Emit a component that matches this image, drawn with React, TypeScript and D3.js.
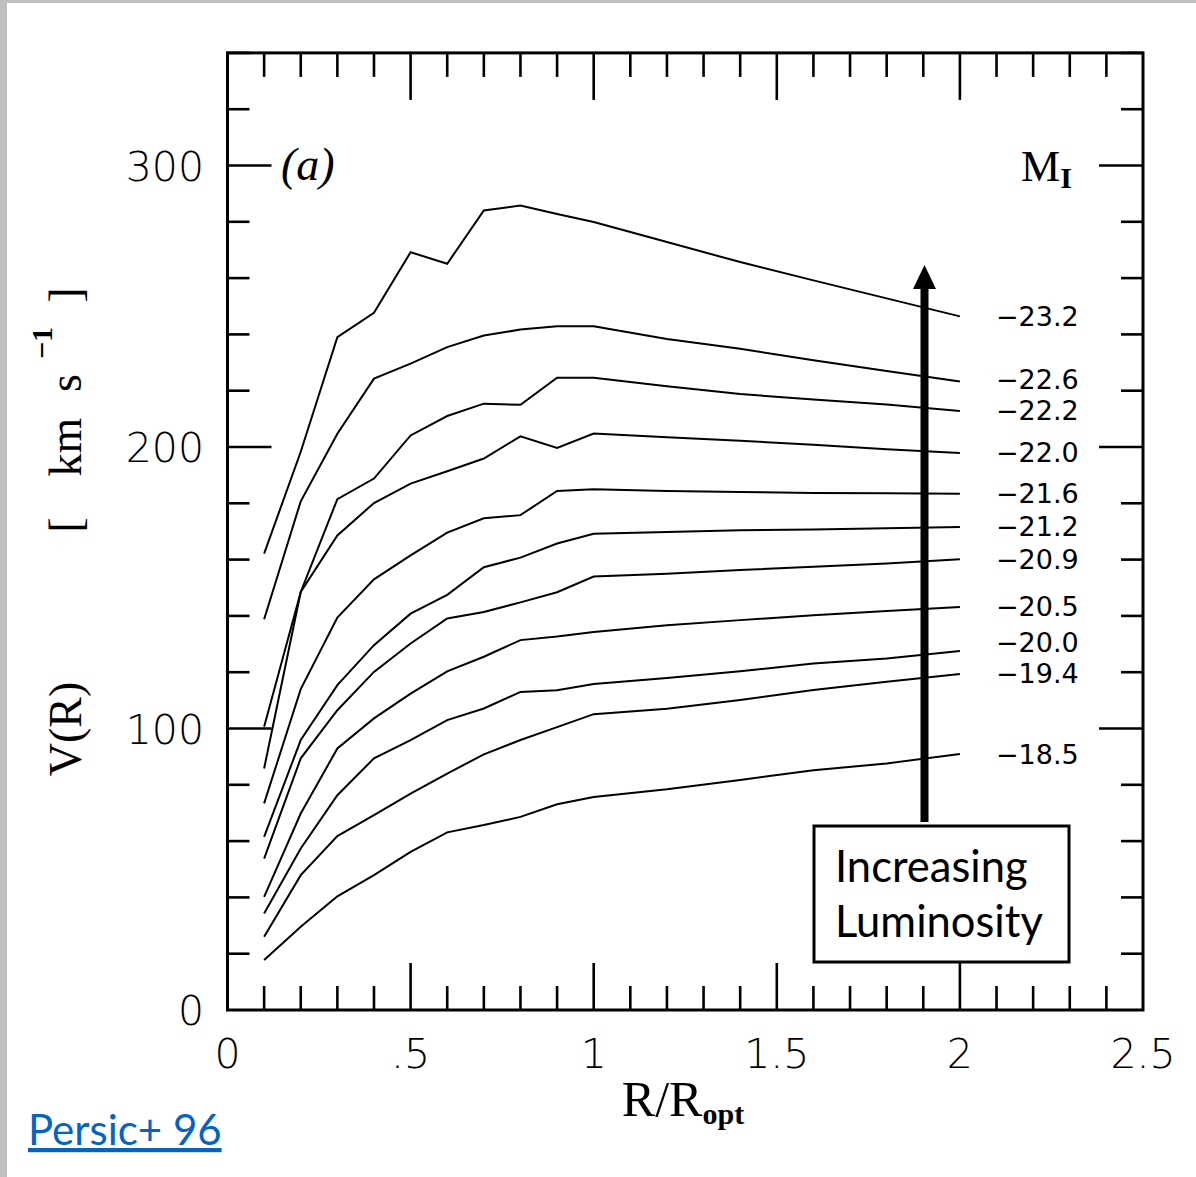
import React from "react";
import * as d3 from "d3";

const radii = [0.1, 0.2, 0.3, 0.4, 0.5, 0.6, 0.7, 0.8, 0.9, 1.0, 1.2, 1.4, 1.6, 1.8, 2.0];
const magnitudes = ["−23.2", "−22.6", "−22.2", "−22.0", "−21.6", "−21.2", "−20.9", "−20.5", "−20.0", "−19.4", "−18.5"];
const v232 = [162.1, 198.3, 239.0, 247.7, 269.2, 265.1, 284.0, 285.8, 282.8, 279.9, 272.8, 265.7, 259.2, 252.8, 246.4];
const v226 = [138.8, 180.7, 204.7, 224.3, 229.6, 235.5, 239.6, 241.7, 242.9, 242.9, 238.4, 234.9, 230.8, 227.0, 223.3];
const v222 = [100.6, 148.5, 181.5, 188.8, 204.1, 211.0, 215.4, 215.0, 224.6, 224.6, 221.6, 218.8, 216.9, 215.1, 212.8];
const v220 = [85.8, 148.5, 168.6, 180.1, 187.0, 191.4, 195.9, 203.8, 199.7, 204.8, 203.5, 202.2, 200.8, 199.2, 197.9];
const v216 = [73.4, 114.0, 139.4, 153.0, 161.5, 169.6, 174.7, 175.8, 184.4, 185.0, 184.4, 184.0, 183.7, 183.6, 183.4];
const v212 = [61.5, 95.9, 115.4, 129.6, 140.8, 147.5, 157.3, 160.7, 165.7, 169.2, 169.8, 170.4, 170.7, 171.1, 171.6];
const v209 = [53.8, 89.4, 106.5, 120.1, 130.2, 139.1, 141.4, 144.8, 148.4, 154.0, 155.0, 156.3, 157.5, 158.6, 160.1];
const v205 = [40.2, 69.8, 92.9, 103.6, 112.4, 120.3, 125.5, 131.4, 132.7, 134.3, 136.7, 138.5, 140.2, 141.7, 143.2];
const v200 = [34.3, 57.4, 76.3, 89.4, 95.9, 103.0, 107.1, 113.0, 113.6, 115.8, 117.9, 120.3, 123.1, 124.9, 127.5];
const v194 = [26.0, 47.9, 61.8, 69.2, 76.9, 84.0, 90.8, 95.9, 100.5, 105.1, 107.0, 110.1, 113.7, 116.6, 119.4];
const v185 = [17.8, 29.6, 40.4, 47.9, 56.2, 63.1, 65.7, 68.6, 73.1, 75.7, 78.4, 81.7, 85.2, 87.6, 90.9];
const curves = [v232, v226, v222, v220, v216, v212, v209, v205, v200, v194, v185];

const xTickLabels = ["0", ".5", "1", "1.5", "2", "2.5"];
const xTickValues = [0, 0.5, 1, 1.5, 2, 2.5];
const yTickValues = [0, 100, 200, 300];

const X0 = 227.5, X1 = 1143, Y0 = 1010, Y300 = 165.5;

export default function App() {
  const x = d3.scaleLinear().domain([0, 2.5]).range([X0, X1]);
  const y = d3.scaleLinear().domain([0, 300]).range([Y0, Y300]);
  const yTop = y(340);
  const line = d3.line<number>().x((_, i) => x(radii[i])).y((d) => y(d));

  const xMinor = d3.range(0, 26).map((i) => i / 10);
  const yMinor = d3.range(0, 18).map((i) => i * 20);

  // label positions with simple de-overlap
  const gap = 31.5;
  const labelY = curves.map((c) => y(c[c.length - 1]));
  for (let i = labelY.length - 2; i >= 0; i--) {
    if (labelY[i + 1] - labelY[i] < gap) labelY[i] = labelY[i + 1] - gap;
  }

  const tickFont = { fontFamily: "DejaVu Sans", fontSize: 41, fontWeight: 200 } as any;

  return (
    <svg width={1196} height={1177} style={{ position: "absolute", left: 0, top: 0, background: "#fff" }}>
      <rect x={0} y={0} width={1196} height={1177} fill="#fff" />
      <rect x={0} y={0} width={7} height={1177} fill="#bfbfbf" />
      <rect x={0} y={0} width={1196} height={3} fill="#bfbfbf" />

      {/* ticks */}
      {xMinor.map((v, i) => {
        const major = i % 5 === 0;
        const len = major ? 47 : 24;
        if (i === 0 || i === 25) return null;
        return (
          <g key={"xt" + i} stroke="#000" strokeWidth={2.6}>
            <line x1={x(v)} x2={x(v)} y1={Y0} y2={Y0 - len} />
            <line x1={x(v)} x2={x(v)} y1={yTop} y2={yTop + len} />
          </g>
        );
      })}
      {yMinor.map((v, i) => {
        const major = v % 100 === 0;
        const len = major ? 44 : 22;
        if (v === 0) return null;
        return (
          <g key={"yt" + i} stroke="#000" strokeWidth={2.6}>
            <line x1={X0} x2={X0 + len} y1={y(v)} y2={y(v)} />
            <line x1={X1} x2={X1 - len} y1={y(v)} y2={y(v)} />
          </g>
        );
      })}
      <rect x={X0} y={yTop} width={X1 - X0} height={Y0 - yTop} fill="none" stroke="#000" strokeWidth={3} />

      {/* tick labels */}
      {yTickValues.map((v) => (
        <text key={"yl" + v} x={204} y={y(v) + 15} textAnchor="end" {...tickFont}>{String(v)}</text>
      ))}
      {xTickValues.map((v, i) => (
        <text key={"xl" + v} x={x(v)} y={1068} textAnchor="middle" {...tickFont}>{xTickLabels[i]}</text>
      ))}

      {/* curves */}
      {curves.map((c, i) => (
        <path key={"c" + i} d={line(c) || ""} fill="none" stroke="#000" strokeWidth={2} strokeLinejoin="miter" />
      ))}

      {/* magnitude labels */}
      {magnitudes.map((m, i) => (
        <text key={"m" + i} x={996} y={labelY[i]} dominantBaseline="central" fontFamily="DejaVu Sans" fontSize={27} fill="#000">{m}</text>
      ))}

      {/* M_I */}
      <text x={1021} y={181} fontFamily="Liberation Serif" fontSize={44}>M<tspan fontSize={30} fontWeight="bold" dy={7}>I</tspan></text>

      {/* (a) */}
      <text x={281} y={180} fontFamily="Liberation Serif" fontStyle="italic" fontSize={46}>(a)</text>

      {/* arrow */}
      <line x1={924.5} x2={924.5} y1={822} y2={285} stroke="#000" strokeWidth={8} />
      <polygon points="913,289 936,289 924.5,265" fill="#000" />

      {/* box */}
      <rect x={814} y={826} width={255} height={136} fill="#fff" stroke="#000" strokeWidth={3} />
      <text x={835} y={882} fontFamily="Lato" fontSize={43.5} fill="#000">Increasing</text>
      <text x={835} y={937} fontFamily="Lato" fontSize={43.5} fill="#000">Luminosity</text>

      {/* x title */}
      <text x={683} y={1116} textAnchor="middle" fontFamily="Liberation Serif" fontSize={50}>R/R<tspan fontSize={30} fontWeight="bold" dy={8}>opt</tspan></text>

      {/* y title */}
      <g fontFamily="Liberation Serif" fontSize={46} fill="#000">
        <text transform="translate(81,729) rotate(-90)" textAnchor="middle">V(R)</text>
        <text transform="translate(81,525) rotate(-90)" textAnchor="middle">[</text>
        <text transform="translate(81,447) rotate(-90)" textAnchor="middle">km</text>
        <text transform="translate(81,383) rotate(-90)" textAnchor="middle">s</text>
        <text transform="translate(52,343) rotate(-90)" textAnchor="middle" fontSize={30} fontWeight="bold">−1</text>
        <text transform="translate(81,295) rotate(-90)" textAnchor="middle">]</text>
      </g>

      {/* citation */}
      <text x={28} y={1145} fontFamily="Lato" fontSize={42} fill="#0563C1" textDecoration="underline">Persic+ 96</text>
    </svg>
  );
}
